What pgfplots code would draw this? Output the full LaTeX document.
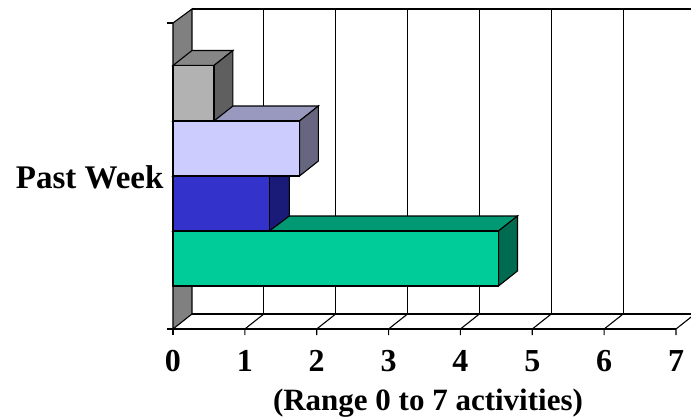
\documentclass[border=0pt]{standalone}
\usepackage{pgfplots}
\pgfplotsset{compat=1.18}
\usepackage{fontspec}
\setmainfont{Liberation Serif}
\definecolor{wall}{HTML}{808080}
\definecolor{grayF}{HTML}{B2B2B2}\definecolor{grayS}{HTML}{5F5F5F}\definecolor{grayT}{HTML}{868686}
\definecolor{lilaF}{HTML}{CCCCFF}\definecolor{lilaS}{HTML}{666680}\definecolor{lilaT}{HTML}{9999BF}
\definecolor{blueF}{HTML}{3333CC}\definecolor{blueS}{HTML}{1A1A78}\definecolor{blueT}{HTML}{262699}
\definecolor{greenF}{HTML}{00CC99}\definecolor{greenS}{HTML}{006B50}\definecolor{greenT}{HTML}{009974}
\begin{document}
\begin{tikzpicture}
\useasboundingbox (-173pt,-87pt) rectangle (518pt,329pt);
\begin{axis}[
  at={(0,0)}, anchor=south west, scale only axis,
  width=503pt, height=306pt,
  xmin=0, xmax=7, ymin=0, ymax=306,
  clip=false, axis line style={draw=none},
  xtick={0,1,...,7}, xtick pos=lower, ytick pos=left,
  tick style={draw=none},
  ytick={152}, yticklabels={Past Week},
  /pgf/number format/assume math mode=true,
  tick label style={font=\fontsize{32}{34}\selectfont\bfseries},
  yticklabel style={font=\fontsize{33}{35}\selectfont\bfseries, xshift=-6pt},
  xticklabel style={yshift=-18pt},
  xlabel={(Range 0 to 7 activities)},
  xlabel style={font=\fontsize{31}{33}\selectfont\bfseries, yshift=-10pt, xshift=3.5pt},
  every axis plot/.append style={black, draw=black, solid, line width=1.1pt},
]
% walls and floor
\addplot[fill=wall] coordinates {(0,0)(0.264,15)(0.264,320)(0,306)} -- cycle;
\addplot[] coordinates {(0.264,320)(7.264,320)};
\addplot[] coordinates {(0.264,15)(7.264,15)};
\addplot[] coordinates {(0,0)(7,0)};
\addplot[] coordinates {(1.264,15)(1.264,320)};
\addplot[] coordinates {(2.264,15)(2.264,320)};
\addplot[] coordinates {(3.264,15)(3.264,320)};
\addplot[] coordinates {(4.264,15)(4.264,320)};
\addplot[] coordinates {(5.264,15)(5.264,320)};
\addplot[] coordinates {(6.264,15)(6.264,320)};
% floor diagonals and tick marks in one stroke each
\addplot[] coordinates {(0,-6)(0,0)};
\addplot[] coordinates {(1,-6)(1,0)(1.264,15)};
\addplot[] coordinates {(2,-6)(2,0)(2.264,15)};
\addplot[] coordinates {(3,-6)(3,0)(3.264,15)};
\addplot[] coordinates {(4,-6)(4,0)(4.264,15)};
\addplot[] coordinates {(5,-6)(5,0)(5.264,15)};
\addplot[] coordinates {(6,-6)(6,0)(6.264,15)};
\addplot[] coordinates {(7,-6)(7,0)(7.264,15)};
\addplot[] coordinates {(-0.083,0)(0,0)};
\addplot[] coordinates {(-0.083,306)(0,306)};
% green bar
\addplot[fill=greenT] coordinates {(0,98)(0.264,113)(4.794,113)(4.53,98)} -- cycle;
\addplot[fill=greenS] coordinates {(4.53,43)(4.794,58)(4.794,113)(4.53,98)} -- cycle;
\addplot[fill=greenF] coordinates {(0,43)(4.53,43)(4.53,98)(0,98)} -- cycle;
% blue bar
\addplot[fill=blueT] coordinates {(0,153)(0.264,168)(1.604,168)(1.34,153)} -- cycle;
\addplot[fill=blueS] coordinates {(1.34,98)(1.62,113)(1.62,168)(1.34,153)} -- cycle;
\addplot[fill=blueF] coordinates {(0,98)(1.34,98)(1.34,153)(0,153)} -- cycle;
% light blue bar
\addplot[fill=lilaT] coordinates {(0,208)(0.264,223)(2.024,223)(1.76,208)} -- cycle;
\addplot[fill=lilaS] coordinates {(1.76,153)(2.024,168)(2.024,223)(1.76,208)} -- cycle;
\addplot[fill=lilaF] coordinates {(0,153)(1.76,153)(1.76,208)(0,208)} -- cycle;
% grey bar
\addplot[fill=grayT] coordinates {(0,263.5)(0.264,278.5)(0.834,278.5)(0.57,263.5)} -- cycle;
\addplot[fill=grayS] coordinates {(0.57,208)(0.834,223)(0.834,278.5)(0.57,263.5)} -- cycle;
\addplot[fill=grayF] coordinates {(0,208)(0.57,208)(0.57,263.5)(0,263.5)} -- cycle;
\end{axis}
\end{tikzpicture}
\end{document}
